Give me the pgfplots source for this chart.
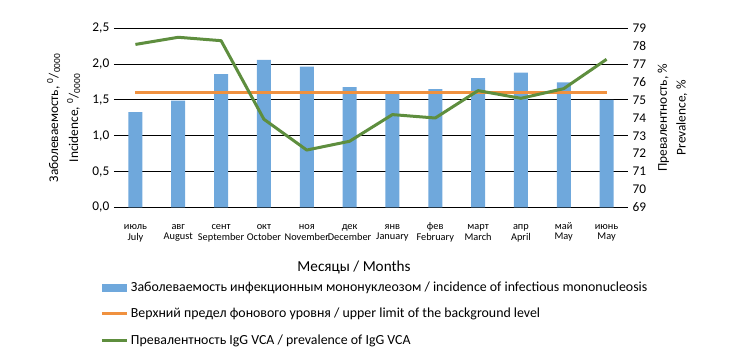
\documentclass[border=0pt]{standalone}
\usepackage{fontspec}
\setmainfont{Carlito}
\usepackage{pgfplots}
\pgfplotsset{compat=1.18}
\definecolor{cblue}{HTML}{6FA8DC}
\definecolor{corange}{HTML}{F0913F}
\definecolor{cgreen}{HTML}{5E8E3E}
\newcommand{\tl}[2]{\strut#1\\\strut#2}
\begin{document}
\begin{tikzpicture}[x=1pt,y=1pt]
\useasboundingbox (0,0) rectangle (549,264);
\begin{axis}[
  at={(85.5pt,108.5pt)}, anchor=south west,
  scale only axis, width=385.5pt, height=134.25pt,
  xmin=-0.5, xmax=11.5, ymin=0, ymax=2.5,
  axis line style={draw=none},
  major tick length=0pt,
  xtick={0,...,11},
  xticklabels={{\tl{июль}{July}},{\tl{авг}{August}},{\tl{сент}{September}},{\tl{окт}{October}},{\tl{ноя}{November}},{\tl{дек}{December}},{\tl{янв}{January}},{\tl{фев}{February}},{\tl{март}{March}},{\tl{апр}{April}},{\tl{май}{May}},{\tl{июнь}{May}}},
  xticklabel style={align=center, font=\fontsize{7.75}{7.5}\selectfont, yshift=-7.5pt},
  ytick={0,0.5,...,2.5},
  yticklabel style={font=\fontsize{10}{12}\selectfont, /pgf/number format/.cd, fixed, fixed zerofill, precision=1, use comma, assume math mode=true},
  ymajorgrids, grid style={black, line width=0.75pt},
  ylabel={Заболеваемость, \textsuperscript{0}/\textsubscript{0000}\\Incidence, \textsuperscript{0}/\textsubscript{0000}},
  ylabel style={align=center, font=\fontsize{10}{15}\selectfont, at={(axis description cs:-0.098,0.5)}, anchor=center, rotate=0},
  xlabel={Месяцы / Months},
  xlabel style={font=\fontsize{11.4}{13}\selectfont, at={(axis description cs:0.467,-0.335)}, anchor=center},
  legend style={at={(axis description cs:-0.0272,-0.40)}, anchor=north west, draw=none, fill=none, inner sep=0pt, row sep=7pt, font=\fontsize{10.4}{12}\selectfont},
  legend cell align=left,
]
\addplot[ybar, bar width=10.5pt, fill=cblue, draw=none,
  legend image code/.code={\fill[cblue] (0pt,-2.9pt) rectangle (18.75pt,2.9pt);}]
  coordinates {(0,1.33) (1,1.49) (2,1.86) (3,2.06) (4,1.965) (5,1.68) (6,1.58) (7,1.65) (8,1.806) (9,1.88) (10,1.746) (11,1.50)};
\addlegendentry{Заболеваемость инфекционным мононуклеозом / incidence of infectious mononucleosis}
\addplot[corange, line width=2.25pt,
  legend image code/.code={\draw[corange,line width=2.25pt] (0pt,0pt) -- (18.75pt,0pt);}]
  coordinates {(0,1.6) (1,1.6) (2,1.6) (3,1.6) (4,1.6) (5,1.6) (6,1.6) (7,1.6) (8,1.6) (9,1.6) (10,1.6) (11,1.6)};
\addlegendentry{Верхний предел фонового уровня / upper limit of the background level}
\addlegendimage{legend image code/.code={\draw[cgreen,line width=2.25pt] (0pt,0pt) -- (18.75pt,0pt);}}
\addlegendentry{Превалентность IgG VCA / prevalence of IgG VCA}
\end{axis}
\begin{axis}[
  at={(85.5pt,108.5pt)}, anchor=south west,
  scale only axis, width=385.5pt, height=134.25pt,
  xmin=-0.5, xmax=11.5, ymin=69, ymax=79,
  axis x line=none, axis y line*=right,
  axis line style={draw=none},
  major tick length=0pt,
  ytick={69,...,79},
  yticklabel style={font=\fontsize{10}{12}\selectfont, /pgf/number format/assume math mode=true},
  ylabel={Превалентность, \%\\Prevalence, \%},
  ylabel style={align=center, font=\fontsize{10}{14}\selectfont, at={(axis description cs:1.0866,0.5)}, anchor=center, rotate=0},
]
\addplot[cgreen, line width=2.25pt, line join=round]
  coordinates {(0,78.1) (1,78.5) (2,78.31) (3,73.92) (4,72.2) (5,72.69) (6,74.18) (7,73.99) (8,75.52) (9,75.09) (10,75.63) (11,77.27)};
\end{axis}
\end{tikzpicture}
\end{document}
